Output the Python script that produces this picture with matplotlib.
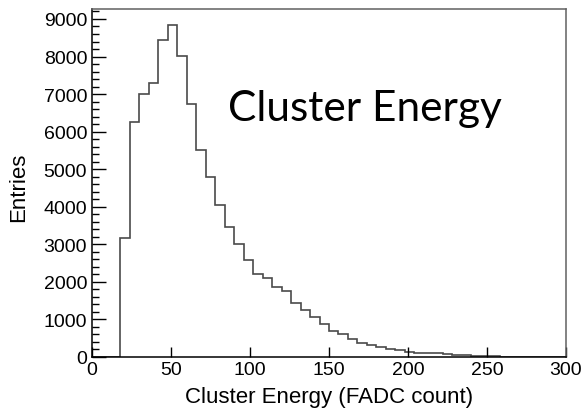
import numpy as np
import matplotlib.pyplot as plt
from matplotlib.ticker import MultipleLocator

# Histogram binning: 50 bins of 6 FADC counts over 0-300
x_lo, x_hi, n_bins = 0, 300, 50

# Entries per bin
counts = [
    0, 0, 0, 3160, 6250, 7010, 7290, 8440, 8830, 8020,
    6745, 5500, 4800, 4040, 3450, 3020, 2578, 2215, 2098, 1862,
    1770, 1425, 1260, 1055, 880, 690, 620, 480, 380, 325,
    275, 220, 180, 140, 115, 105, 100, 70, 50, 42,
    35, 28, 22, 6, 4, 3, 2, 2, 1, 1,
]

x_ticks = [0, 50, 100, 150, 200, 250, 300]
y_ticks = [0, 1000, 2000, 3000, 4000, 5000, 6000, 7000, 8000, 9000]

edges = np.linspace(x_lo, x_hi, n_bins + 1)

plt.rcParams['font.family'] = ['Liberation Sans', 'DejaVu Sans']

fig = plt.figure(figsize=(5.85, 4.14), dpi=100)
ax = fig.add_axes([0.1573, 0.1353, 0.8102, 0.8405])

ax.stairs(counts, edges, color='#4a4a4a', linewidth=1.2)

ax.set_xlim(x_lo, x_hi)
ax.set_ylim(0, 9265)
ax.set_xticks(x_ticks)
ax.set_yticks(y_ticks)
ax.yaxis.set_minor_locator(MultipleLocator(200))

ax.tick_params(axis='both', which='both', direction='in', labelsize=14,
               top=False, right=False, color='black', width=1.0)
ax.tick_params(axis='y', which='major', length=10, pad=3.5)
ax.tick_params(axis='y', which='minor', length=5)
ax.tick_params(axis='x', which='major', length=7.5, pad=3)

for side in ['left', 'bottom']:
    ax.spines[side].set_color('black')
    ax.spines[side].set_linewidth(1.1)
for side in ['top', 'right']:
    ax.spines[side].set_color('#606060')
    ax.spines[side].set_linewidth(1.1)

ax.set_xlabel('Cluster Energy (FADC count)', fontsize=16)
ax.set_ylabel('Entries', fontsize=16)
ax.xaxis.set_label_coords(0.5, -0.083)
ax.yaxis.set_label_coords(-0.133, 0.49)

ax.text(0.287, 0.680, 'Cluster Energy', transform=ax.transAxes,
        fontsize=30.5, family=['Lato', 'DejaVu Sans'],
        ha='left', va='baseline', color='black')

fig.savefig('out.png', dpi=100)
